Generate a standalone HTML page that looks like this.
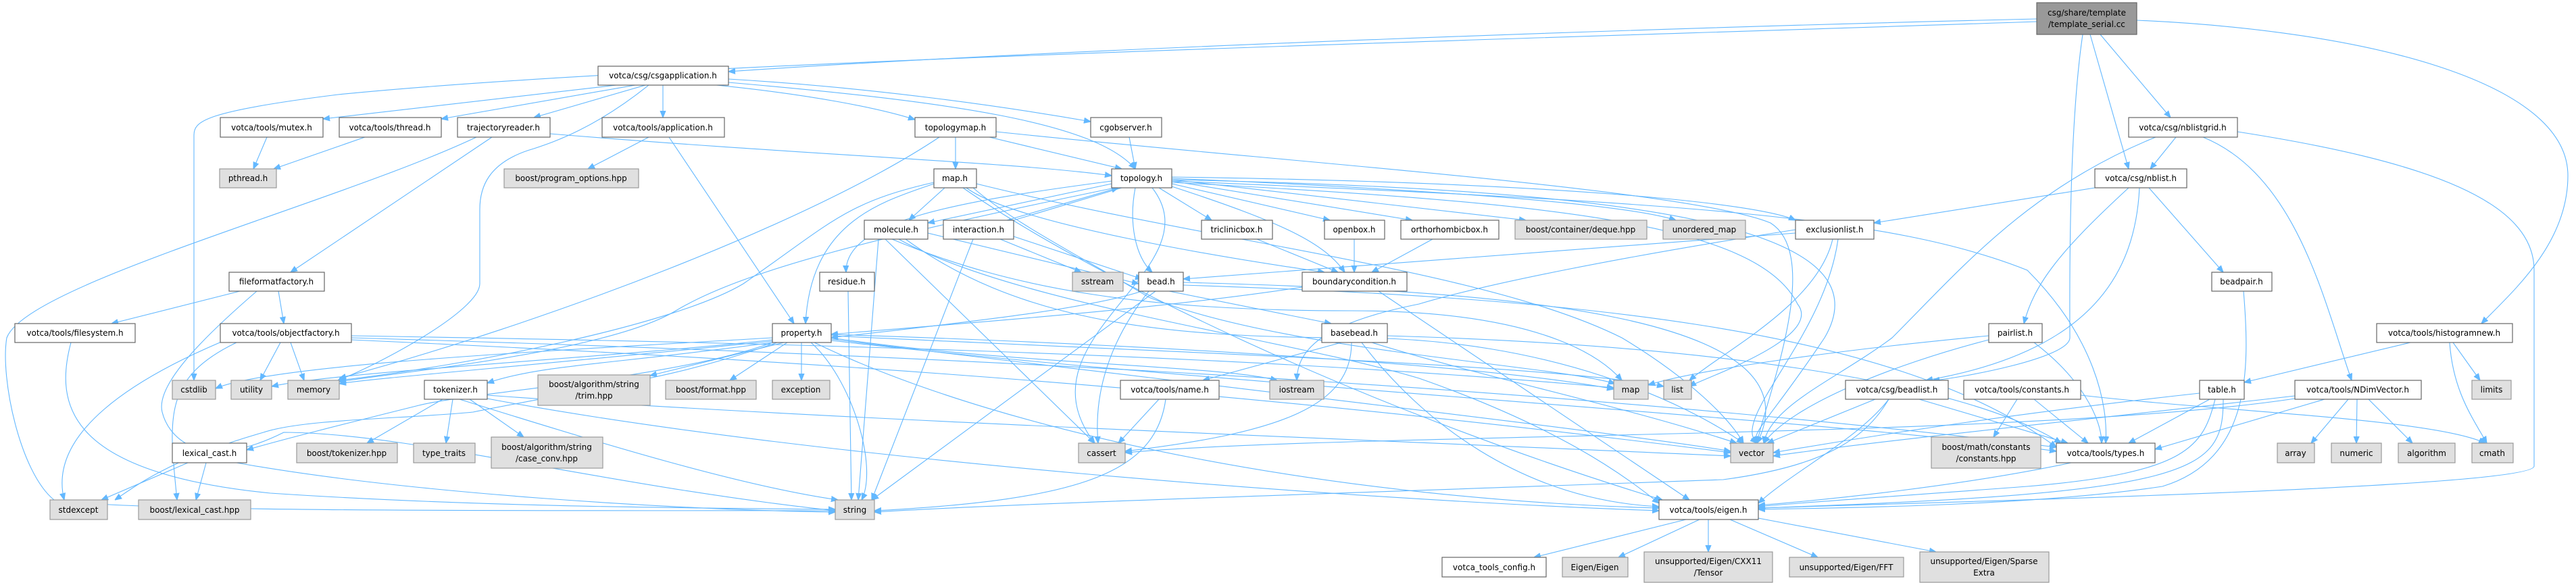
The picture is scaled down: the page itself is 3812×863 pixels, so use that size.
<!DOCTYPE html>
<html><head><meta charset="utf-8"><style>
html,body{margin:0;padding:0;background:#fff;}
svg{display:block}
.n rect{fill:#fff;stroke:#666;stroke-width:1.2}
.g rect{fill:#e0e0e0;stroke:#999;stroke-width:1.2}
.m rect{fill:#999;stroke:#666;stroke-width:1.2}
text{font-family:"DejaVu Sans","Liberation Sans",sans-serif;font-size:12px;fill:#000;text-anchor:middle}
path{fill:none;stroke:#63b8ff;stroke-width:1.1}
</style></head><body>
<svg width="3812" height="863" viewBox="0 0 3812 863" xmlns="http://www.w3.org/2000/svg">
<defs><marker id="a" viewBox="0 0 10 10" refX="10" refY="5" markerWidth="10" markerHeight="10" markerUnits="userSpaceOnUse" orient="auto"><path d="M0,1 L10,5 L0,9 z" style="fill:#63b8ff;stroke:#63b8ff"/></marker></defs>
<g marker-end="url(#a)">
<!-- template -->
<path d="M3014,28 C2500,40 1600,70 1078,106"/>
<path d="M3014,32 C2200,60 1000,90 500,140 C300,165 287,180 287,200 L287,563"/>
<path d="M3108,51 L3212,174"/>
<path d="M3093,51 L3150,250"/>
<path d="M3082,51 C3060,200 3063,450 3063,500 C3063,530 2900,560 2860,563"/>
<path d="M3162,30 C3500,45 3800,120 3800,260 C3800,360 3720,430 3672,479"/>
<!-- csgapplication -->
<path d="M912,126 L478,176"/>
<path d="M940,126 L653,176"/>
<path d="M955,126 L790,174"/>
<path d="M981,126 L981,174"/>
<path d="M960,126 C880,190 820,210 790,220 C720,240 710,280 710,310 L710,420 C710,460 560,540 500,563"/>
<path d="M1060,126 C1200,140 1300,160 1354,177"/>
<path d="M1078,117 C1300,130 1500,160 1614,180"/>
<path d="M1078,122 C1400,150 1620,180 1680,250"/>
<!-- mutex thread -->
<path d="M395,203 L375,250"/>
<path d="M540,203 L405,250"/>
<!-- trajectoryreader -->
<path d="M814,198 C1200,230 1500,240 1645,260"/>
<path d="M728,203 L430,403"/>
<path d="M705,203 C500,300 40,420 10,500 C0,560 30,700 80,740 C200,760 900,755 1236,756"/>
<!-- application -->
<path d="M960,203 L870,250"/>
<path d="M990,203 L1175,479"/>
<!-- fileformatfactory -->
<path d="M355,431 L165,479"/>
<path d="M412,431 L420,479"/>
<path d="M380,431 C300,500 230,570 240,610 C250,650 300,700 420,640 C600,640 900,720 1236,756"/>
<!-- filesystem -->
<path d="M105,507 C80,600 100,700 400,730 C700,750 1000,752 1236,754"/>
<!-- objectfactory -->
<path d="M330,505 C200,560 70,640 95,740"/>
<path d="M350,507 C240,560 250,620 262,740"/>
<path d="M415,507 L385,563"/>
<path d="M430,507 L450,563"/>
<path d="M520,497 C1000,505 1800,520 2388,574"/>
<path d="M520,500 C1200,520 2200,560 3043,662"/>
<path d="M520,503 C1000,525 1700,560 2561,670"/>
<!-- property -->
<path d="M1143,505 C800,540 550,560 502,568"/>
<path d="M1143,500 C800,520 400,540 319,575"/>
<path d="M1143,503 C900,530 500,550 402,572"/>
<path d="M1160,507 L962,556"/>
<path d="M1165,507 L1080,563"/>
<path d="M1186,507 L1186,563"/>
<path d="M1143,507 C900,540 800,540 721,567"/>
<path d="M1143,507 C1000,560 700,580 620,600 C500,630 420,650 365,666"/>
<path d="M1150,507 C1000,560 900,570 700,610 C600,620 450,620 390,640 C250,680 200,720 170,740"/>
<path d="M1200,507 C1260,560 1300,690 1275,740"/>
<path d="M1230,495 C1700,510 2200,540 2388,576"/>
<path d="M1230,497 C1700,520 2300,540 2462,572"/>
<path d="M1230,500 C1500,540 1800,540 1890,563"/>
<path d="M1230,502 C1700,560 2400,640 2561,668"/>
<path d="M1230,504 C1800,570 2700,620 3043,668"/>
<path d="M1205,507 C1500,650 2000,740 2455,752"/>
<!-- tokenizer -->
<path d="M655,591 L543,656"/>
<path d="M670,591 L660,656"/>
<path d="M695,591 L775,647"/>
<path d="M680,591 C900,660 1100,720 1240,740"/>
<path d="M721,585 C1200,620 2000,650 2561,675"/>
<path d="M721,590 C1200,680 2000,740 2455,756"/>
<!-- lexical_cast -->
<path d="M278,685 L150,740"/>
<path d="M305,685 L290,740"/>
<path d="M350,685 C600,730 1000,755 1236,758"/>
<!-- residue -->
<path d="M1255,431 L1260,740"/>
<!-- topologymap -->
<path d="M1414,203 L1414,250"/>
<path d="M1464,203 L1660,250"/>
<path d="M1390,203 C1200,330 800,480 502,560"/>
<path d="M1474,195 C1900,240 2500,280 2620,330 C2700,380 2610,600 2600,656"/>
<!-- cgobserver -->
<path d="M1671,203 L1680,250"/>
<!-- map.h -->
<path d="M1398,278 L1345,326"/>
<path d="M1382,272 C1300,300 1200,330 1192,479"/>
<path d="M1382,270 C1250,300 1230,330 1100,420 C1000,480 700,540 502,563"/>
<path d="M1430,278 C1500,330 1800,380 1960,403"/>
<path d="M1440,278 C1500,330 1600,380 1700,440 C1900,520 2300,540 2390,568"/>
<path d="M1425,278 C1600,400 2000,600 2460,740"/>
<path d="M1445,272 C1800,360 2200,400 2400,500 C2500,560 2560,620 2580,656"/>
<!-- topology.h -->
<path d="M1645,272 L1373,330"/>
<path d="M1660,278 L1487,330"/>
<path d="M1490,326 L1655,278"/>
<path d="M1645,268 C1400,300 1250,330 1252,403"/>
<path d="M1715,278 L1793,326"/>
<path d="M1734,272 L1968,326"/>
<path d="M1734,268 L2090,326"/>
<path d="M1734,266 L2258,326"/>
<path d="M1734,264 C2100,280 2400,300 2480,326"/>
<path d="M1734,262 C2300,270 2600,300 2657,326"/>
<path d="M1680,278 C1670,330 1680,380 1705,403"/>
<path d="M1734,276 C1900,330 1960,360 1990,403"/>
<path d="M1705,278 C1800,400 1500,500 1620,656"/>
<path d="M1734,266 C2400,280 2800,330 2700,500 C2620,620 2590,640 2600,656"/>
<path d="M1734,268 C2500,300 2800,320 3000,400 C3100,500 3120,600 3116,656"/>
<path d="M1734,270 C2300,300 2600,330 2660,450 C2700,500 2520,560 2500,572"/>
<path d="M1650,278 C1300,350 1100,400 1000,460 C900,520 600,550 502,565"/>
<!-- molecule -->
<path d="M1373,345 L1685,420"/>
<path d="M1300,354 L1270,740"/>
<path d="M1310,354 L1620,656"/>
<path d="M1320,354 C1500,430 1700,460 2000,460 C2300,460 2380,540 2400,563"/>
<path d="M1340,354 C1500,470 1700,500 2000,500 C2300,500 2500,600 2580,656"/>
<path d="M1330,354 C1500,450 1900,500 2100,560 C2300,630 2400,700 2455,745"/>
<!-- interaction -->
<path d="M1480,354 L1600,403"/>
<path d="M1500,350 L1690,413"/>
<path d="M1440,354 L1290,740"/>
<!-- boxes -->
<path d="M1860,354 L1980,403"/>
<path d="M2004,354 L2004,403"/>
<path d="M2120,354 L2030,403"/>
<path d="M2040,431 L2500,740"/>
<path d="M1927,425 C1700,460 1400,480 1230,495"/>
<!-- bead -->
<path d="M1730,431 L1970,479"/>
<path d="M1700,431 C1630,520 1620,600 1625,656"/>
<path d="M1710,431 L1290,740"/>
<path d="M1690,431 C1600,460 1400,480 1230,500"/>
<path d="M1751,422 C2300,440 2800,480 3043,662"/>
<path d="M1751,418 C2200,430 2700,460 2600,656"/>
<!-- exclusionlist -->
<path d="M2657,345 L1751,413"/>
<path d="M2657,340 C2400,380 2200,420 2100,450 C1950,480 1920,520 1919,563"/>
<path d="M2712,354 C2690,450 2550,520 2500,563"/>
<path d="M2720,354 C2700,500 2560,620 2600,656"/>
<!-- basebead -->
<path d="M1985,507 L1780,563"/>
<path d="M2000,507 C2000,600 1900,640 1665,668"/>
<path d="M2015,507 C2100,620 2250,740 2455,750"/>
<path d="M2053,497 C2500,510 2900,560 3050,656"/>
<path d="M2030,507 C2200,560 2400,600 2570,656"/>
<!-- name -->
<path d="M1715,591 L1655,656"/>
<path d="M1725,591 C1710,700 1600,740 1294,756"/>
<!-- nblistgrid -->
<path d="M3220,203 L3182,250"/>
<path d="M3190,203 C3000,280 2900,400 2800,500 C2720,560 2620,600 2610,656"/>
<path d="M3260,203 C3400,260 3440,450 3480,563"/>
<path d="M3311,195 C3600,240 3750,300 3750,400 L3750,690 C3750,720 3000,740 2602,752"/>
<!-- nblist -->
<path d="M3100,278 L2773,330"/>
<path d="M3180,278 L3290,403"/>
<path d="M3150,278 C3050,370 3010,420 2995,479"/>
<path d="M3166,278 C3160,400 3100,520 2850,563"/>
<!-- beadpair -->
<path d="M3320,431 C3330,550 3330,680 3200,720 C3000,750 2700,752 2602,754"/>
<!-- pairlist -->
<path d="M2943,497 C2700,520 2500,550 2439,570"/>
<path d="M2943,503 C2800,540 2650,600 2610,656"/>
<path d="M3010,507 C3080,560 3110,620 3110,656"/>
<!-- histogram -->
<path d="M3567,507 L3321,566"/>
<path d="M3630,507 L3670,563"/>
<path d="M3625,507 C3630,580 3660,620 3680,656"/>
<!-- beadlist -->
<path d="M2775,591 L2615,656"/>
<path d="M2840,591 L3060,656"/>
<path d="M2795,591 C2750,650 2650,700 2602,745"/>
<path d="M2795,591 C2760,650 2700,690 2550,710 C2000,730 1500,745 1294,758"/>
<!-- constants -->
<path d="M2985,591 L2950,647"/>
<path d="M3010,591 L3090,656"/>
<path d="M3079,585 C3300,610 3600,620 3678,656"/>
<!-- table -->
<path d="M3255,582 C3000,610 2800,640 2624,670"/>
<path d="M3270,591 L3150,656"/>
<path d="M3278,591 C3260,660 3240,700 3000,720 C2800,735 2650,745 2602,750"/>
<path d="M3290,591 C3290,700 3250,730 2602,752"/>
<!-- NDimVector -->
<path d="M3475,591 L3420,656"/>
<path d="M3488,591 L3487,656"/>
<path d="M3505,591 L3570,656"/>
<path d="M3396,586 C3100,620 2800,650 2624,675"/>
<path d="M3440,591 L3189,665"/>
<path d="M3396,590 C3000,650 2000,640 1665,670"/>
<!-- types -->
<path d="M3065,685 C2900,720 2700,740 2602,748"/>
<!-- eigen -->
<path d="M2495,769 L2270,825"/>
<path d="M2515,769 L2395,825"/>
<path d="M2528,769 L2528,817"/>
<path d="M2560,769 L2690,825"/>
<path d="M2602,767 L2865,817"/>
</g>
<!-- nodes -->
<g class="m"><rect x="3014" y="4" width="148" height="47"/></g>
<text x="3088" y="23">csg/share/template</text><text x="3088" y="40">/template_serial.cc</text>
<g class="n">
<rect x="885" y="98" width="193" height="28"/>
<rect x="326" y="174" width="152" height="29"/>
<rect x="502" y="174" width="151" height="29"/>
<rect x="677" y="174" width="137" height="29"/>
<rect x="891" y="174" width="181" height="29"/>
<rect x="339" y="403" width="141" height="28"/>
<rect x="22" y="479" width="178" height="28"/>
<rect x="326" y="479" width="194" height="28"/>
<rect x="1143" y="479" width="87" height="28"/>
<rect x="1213" y="403" width="81" height="28"/>
<rect x="628" y="563" width="93" height="28"/>
<rect x="255" y="656" width="110" height="29"/>
<rect x="1354" y="174" width="120" height="29"/>
<rect x="1614" y="174" width="105" height="29"/>
<rect x="1382" y="250" width="63" height="28"/>
<rect x="1645" y="250" width="89" height="28"/>
<rect x="1279" y="326" width="94" height="28"/>
<rect x="1396" y="326" width="104" height="28"/>
<rect x="1778" y="326" width="105" height="28"/>
<rect x="1960" y="326" width="89" height="28"/>
<rect x="2073" y="326" width="145" height="28"/>
<rect x="2657" y="326" width="116" height="28"/>
<rect x="1685" y="403" width="66" height="28"/>
<rect x="1927" y="403" width="155" height="28"/>
<rect x="1956" y="479" width="97" height="28"/>
<rect x="2943" y="479" width="79" height="28"/>
<rect x="3517" y="479" width="201" height="28"/>
<rect x="1658" y="563" width="146" height="28"/>
<rect x="2731" y="563" width="152" height="28"/>
<rect x="2906" y="563" width="173" height="28"/>
<rect x="3255" y="563" width="66" height="28"/>
<rect x="3396" y="563" width="187" height="28"/>
<rect x="3043" y="656" width="146" height="29"/>
<rect x="2455" y="740" width="147" height="29"/>
<rect x="2134" y="825" width="154" height="29"/>
<rect x="3150" y="174" width="161" height="29"/>
<rect x="3100" y="250" width="136" height="28"/>
<rect x="3273" y="403" width="89" height="28"/>
</g>
<g class="g">
<rect x="325" y="250" width="84" height="28"/>
<rect x="746" y="250" width="199" height="28"/>
<rect x="255" y="563" width="64" height="28"/>
<rect x="342" y="563" width="60" height="28"/>
<rect x="426" y="563" width="76" height="28"/>
<rect x="796" y="555" width="166" height="45"/>
<rect x="985" y="563" width="134" height="28"/>
<rect x="1143" y="563" width="85" height="28"/>
<rect x="439" y="656" width="149" height="29"/>
<rect x="612" y="656" width="91" height="29"/>
<rect x="727" y="647" width="165" height="46"/>
<rect x="74" y="740" width="85" height="29"/>
<rect x="205" y="740" width="166" height="29"/>
<rect x="1236" y="740" width="58" height="29"/>
<rect x="2242" y="326" width="195" height="28"/>
<rect x="2461" y="326" width="122" height="28"/>
<rect x="1587" y="403" width="75" height="28"/>
<rect x="1879" y="563" width="80" height="28"/>
<rect x="2388" y="563" width="51" height="28"/>
<rect x="2462" y="563" width="41" height="28"/>
<rect x="3658" y="563" width="58" height="28"/>
<rect x="1596" y="656" width="69" height="29"/>
<rect x="2561" y="656" width="63" height="29"/>
<rect x="2858" y="647" width="162" height="46"/>
<rect x="3370" y="656" width="55" height="29"/>
<rect x="3450" y="656" width="74" height="29"/>
<rect x="3549" y="656" width="84" height="29"/>
<rect x="3658" y="656" width="61" height="29"/>
<rect x="2312" y="825" width="97" height="29"/>
<rect x="2433" y="817" width="190" height="45"/>
<rect x="2648" y="825" width="169" height="29"/>
<rect x="2841" y="817" width="191" height="45"/>
</g>
<text x="981" y="116">votca/csg/csgapplication.h</text>
<text x="402" y="193">votca/tools/mutex.h</text>
<text x="577" y="193">votca/tools/thread.h</text>
<text x="745" y="193">trajectoryreader.h</text>
<text x="981" y="193">votca/tools/application.h</text>
<text x="367" y="268">pthread.h</text>
<text x="845" y="268">boost/program_options.hpp</text>
<text x="409" y="421">fileformatfactory.h</text>
<text x="111" y="497">votca/tools/filesystem.h</text>
<text x="423" y="497">votca/tools/objectfactory.h</text>
<text x="1186" y="497">property.h</text>
<text x="1253" y="421">residue.h</text>
<text x="287" y="581">cstdlib</text>
<text x="372" y="581">utility</text>
<text x="464" y="581">memory</text>
<text x="674" y="581">tokenizer.h</text>
<text x="879" y="573">boost/algorithm/string</text><text x="879" y="590">/trim.hpp</text>
<text x="1052" y="581">boost/format.hpp</text>
<text x="1185" y="581">exception</text>
<text x="310" y="675">lexical_cast.h</text>
<text x="513" y="675">boost/tokenizer.hpp</text>
<text x="657" y="675">type_traits</text>
<text x="809" y="666">boost/algorithm/string</text><text x="809" y="683">/case_conv.hpp</text>
<text x="116" y="759">stdexcept</text>
<text x="288" y="759">boost/lexical_cast.hpp</text>
<text x="1265" y="759">string</text>
<text x="1414" y="193">topologymap.h</text>
<text x="1666" y="193">cgobserver.h</text>
<text x="1413" y="268">map.h</text>
<text x="1689" y="268">topology.h</text>
<text x="1326" y="344">molecule.h</text>
<text x="1448" y="344">interaction.h</text>
<text x="1830" y="344">triclinicbox.h</text>
<text x="2004" y="344">openbox.h</text>
<text x="2145" y="344">orthorhombicbox.h</text>
<text x="2339" y="344">boost/container/deque.hpp</text>
<text x="2522" y="344">unordered_map</text>
<text x="2715" y="344">exclusionlist.h</text>
<text x="1624" y="421">sstream</text>
<text x="1718" y="421">bead.h</text>
<text x="2004" y="421">boundarycondition.h</text>
<text x="2004" y="497">basebead.h</text>
<text x="2982" y="497">pairlist.h</text>
<text x="3617" y="497">votca/tools/histogramnew.h</text>
<text x="1731" y="581">votca/tools/name.h</text>
<text x="1919" y="581">iostream</text>
<text x="2413" y="581">map</text>
<text x="2482" y="581">list</text>
<text x="2807" y="581">votca/csg/beadlist.h</text>
<text x="2992" y="581">votca/tools/constants.h</text>
<text x="3288" y="581">table.h</text>
<text x="3489" y="581">votca/tools/NDimVector.h</text>
<text x="3687" y="581">limits</text>
<text x="1630" y="675">cassert</text>
<text x="2592" y="675">vector</text>
<text x="2939" y="666">boost/math/constants</text><text x="2939" y="683">/constants.hpp</text>
<text x="3116" y="675">votca/tools/types.h</text>
<text x="3397" y="675">array</text>
<text x="3487" y="675">numeric</text>
<text x="3591" y="675">algorithm</text>
<text x="3688" y="675">cmath</text>
<text x="2528" y="759">votca/tools/eigen.h</text>
<text x="2211" y="844">votca_tools_config.h</text>
<text x="2360" y="844">Eigen/Eigen</text>
<text x="2528" y="835">unsupported/Eigen/CXX11</text><text x="2528" y="852">/Tensor</text>
<text x="2732" y="844">unsupported/Eigen/FFT</text>
<text x="2936" y="835">unsupported/Eigen/Sparse</text><text x="2936" y="852">Extra</text>
<text x="3230" y="193">votca/csg/nblistgrid.h</text>
<text x="3168" y="268">votca/csg/nblist.h</text>
<text x="3317" y="421">beadpair.h</text>
</svg>
</body></html>
